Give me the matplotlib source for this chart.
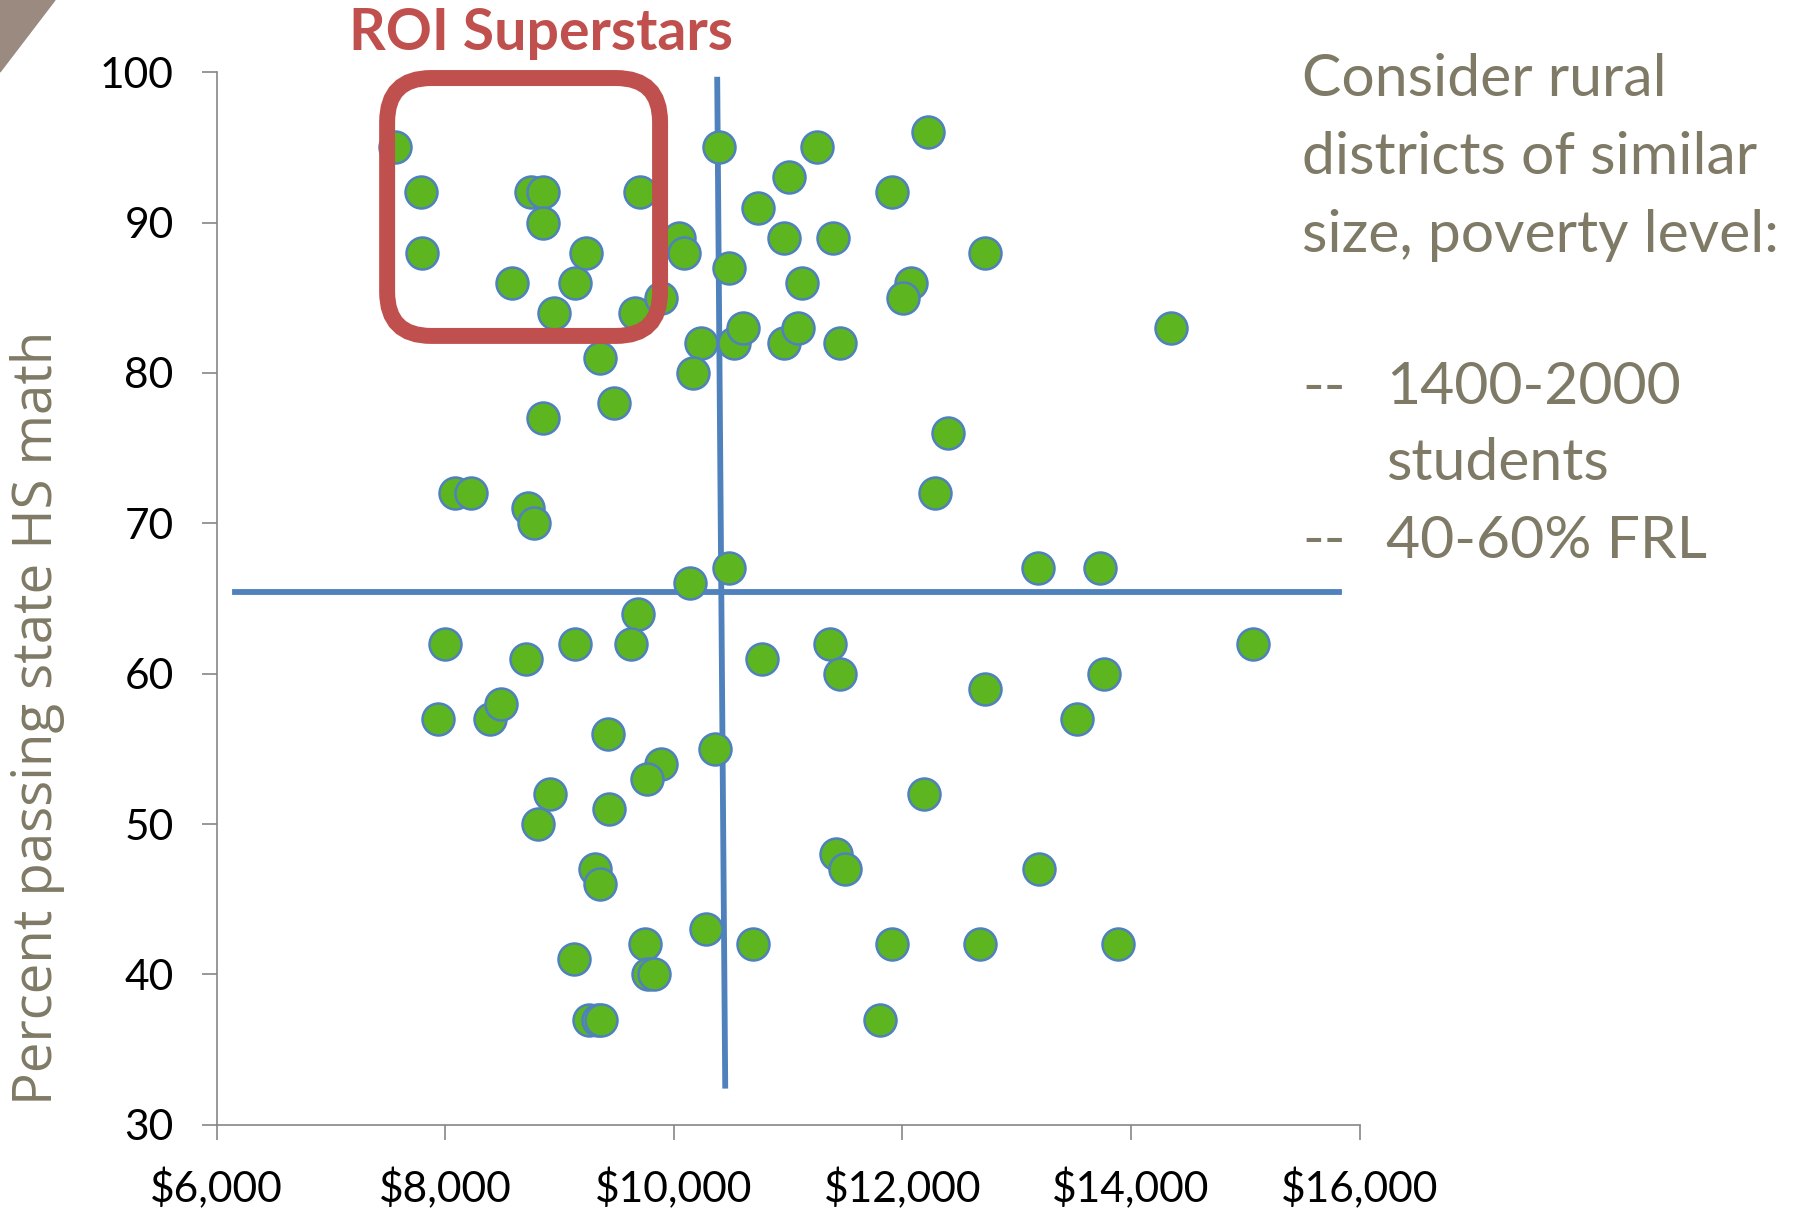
import matplotlib.pyplot as plt
from matplotlib.patches import FancyBboxPatch, Polygon
from matplotlib.ticker import FuncFormatter

# spending per pupil ($) and percent passing state HS math
spend = [7563, 7784, 7794, 8755, 8855, 8855, 8585, 9136, 9236, 8956,
         9707, 9657, 9888, 10048, 10088, 10399, 10479, 9357, 9477, 8855,
         10238, 10168, 10529, 10609, 10740, 11010, 11251, 10960, 11391, 11120,
         10960, 11090, 11451, 11912, 12222, 12072, 12002, 12723, 14347, 12403,
         12283, 8084, 8224, 8725, 8775, 10138, 10479, 13184, 13725, 9687,
         7994, 8705, 9136, 9627, 10770, 11371, 11451, 12723, 13765, 13525,
         15068, 7934, 8395, 8485, 9427, 10359, 9888, 9767, 8916, 8815,
         9437, 12193, 9307, 9357, 11421, 11501, 13194, 9126, 9747, 9777,
         9827, 10279, 10689, 11912, 12683, 13886, 9257, 9337, 9367, 11802]
passing = [95, 92, 88, 92, 92, 90, 86, 86, 88, 84,
           92, 84, 85, 89, 88, 95, 87, 81, 78, 77,
           82, 80, 82, 83, 91, 93, 95, 89, 89, 86,
           82, 83, 82, 92, 96, 86, 85, 88, 83, 76,
           72, 72, 72, 71, 70, 66, 67, 67, 67, 64,
           62, 61, 62, 62, 61, 62, 60, 59, 60, 57,
           62, 57, 57, 58, 56, 55, 54, 53, 52, 50,
           51, 52, 47, 46, 48, 47, 47, 41, 42, 40,
           40, 43, 42, 42, 42, 42, 37, 37, 37, 37]

# reference lines (drawn by hand on the slide)
hline_x = [6160, 15820]
hline_y = [65.4, 65.4]
vline_x = [10380, 10450]
vline_y = [99.5, 32.6]

# "superstars" box
box_x0, box_x1 = 7492, 9880
box_y0, box_y1 = 82.46, 99.61

x_ticks = [6000, 8000, 10000, 12000, 14000, 16000]
y_ticks = [30, 40, 50, 60, 70, 80, 90, 100]

notes = ['Consider rural', 'districts of similar', 'size, poverty level:']
bullets = [('--', '1400-2000'), ('', 'students'), ('--', '40-60% FRL')]

gray_text = '#7F7A66'
red = '#C0504D'
font = ['Lato', 'DejaVu Sans']

fig = plt.figure(figsize=(17.96, 12.11), dpi=100)
ax = fig.add_axes([0.1206, 0.0712, 0.6364, 0.8692])
W, H = 1796.0, 1211.0

ax.plot(hline_x, hline_y, color='#4F81BD', lw=4.2, zorder=2)
ax.plot(vline_x, vline_y, color='#4F81BD', lw=4.2, zorder=2)

ax.scatter(spend, passing, s=530, color='#5DB520', edgecolors='#4F81BD',
           linewidths=1.8, zorder=3)

# rounded box, rounding in x units scaled by aspect
px_per_x = 1143.0 / 10000
px_per_y = 1052.6 / 70
rad = 44 / px_per_x
box = FancyBboxPatch((box_x0, box_y0), box_x1 - box_x0, box_y1 - box_y0,
                     boxstyle='round,pad=0,rounding_size=%f' % rad,
                     mutation_aspect=px_per_x / px_per_y,
                     fill=False, edgecolor=red, lw=11.5, clip_on=False, zorder=4)
ax.add_patch(box)

ax.set_xlim(6000, 16000)
ax.set_ylim(30, 100)
ax.set_xticks(x_ticks)
ax.set_yticks(y_ticks)
ax.xaxis.set_major_formatter(FuncFormatter(lambda v, p: '${:,.0f}'.format(v)))
for s in ['top', 'right']:
    ax.spines[s].set_visible(False)
for s in ['left', 'bottom']:
    ax.spines[s].set_color('#868686')
    ax.spines[s].set_linewidth(1.2)
ax.tick_params(axis='both', direction='out', length=11, width=1.2, color='#868686',
               labelsize=30.6, labelcolor='black', pad=20)
for lab in ax.get_xticklabels() + ax.get_yticklabels():
    lab.set_family(font)

r = fig.canvas.get_renderer()


def fit(t, target_w, vertical=False):
    bb = t.get_window_extent(r)
    w = bb.height if vertical else bb.width
    t.set_fontsize(t.get_fontsize() * target_w / w)


ylab = fig.text(38 / W, 1 - 718 / H, 'Percent passing state HS math', rotation=90,
                color=gray_text, fontsize=36, family=['Open Sans', 'DejaVu Sans'],
                ha='center', va='center')
fit(ylab, 773, vertical=True)

title = fig.text(541 / W, 1 - 34 / H, 'ROI Superstars', color=red, fontsize=36,
                 fontweight='bold', family=font, ha='center', va='center')
fit(title, 384)

# side notes
probe = fig.text(0, 0, notes[1], fontsize=36, family=font)
fit(probe, 456)
fs = probe.get_fontsize()
probe.remove()

rx = 1302 / W
for i, line in enumerate(notes):
    fig.text(rx, 1 - (80 + i * 77.5) / H, line, color=gray_text, fontsize=fs,
             family=font, va='center')
for i, (dash, line) in enumerate(bullets):
    y = 1 - (387 + i * 77) / H
    if dash:
        fig.text(rx, y, dash, color=gray_text, fontsize=fs, family=font, va='center')
    fig.text(1386 / W, y, line, color=gray_text, fontsize=fs, family=font, va='center')

# corner decoration
fig.patches.append(Polygon([[0, 1], [55 / W, 1], [0, 1 - 72 / H]], closed=True,
                           transform=fig.transFigure, color='#9A8A80'))

fig.savefig('out.png', dpi=100)
